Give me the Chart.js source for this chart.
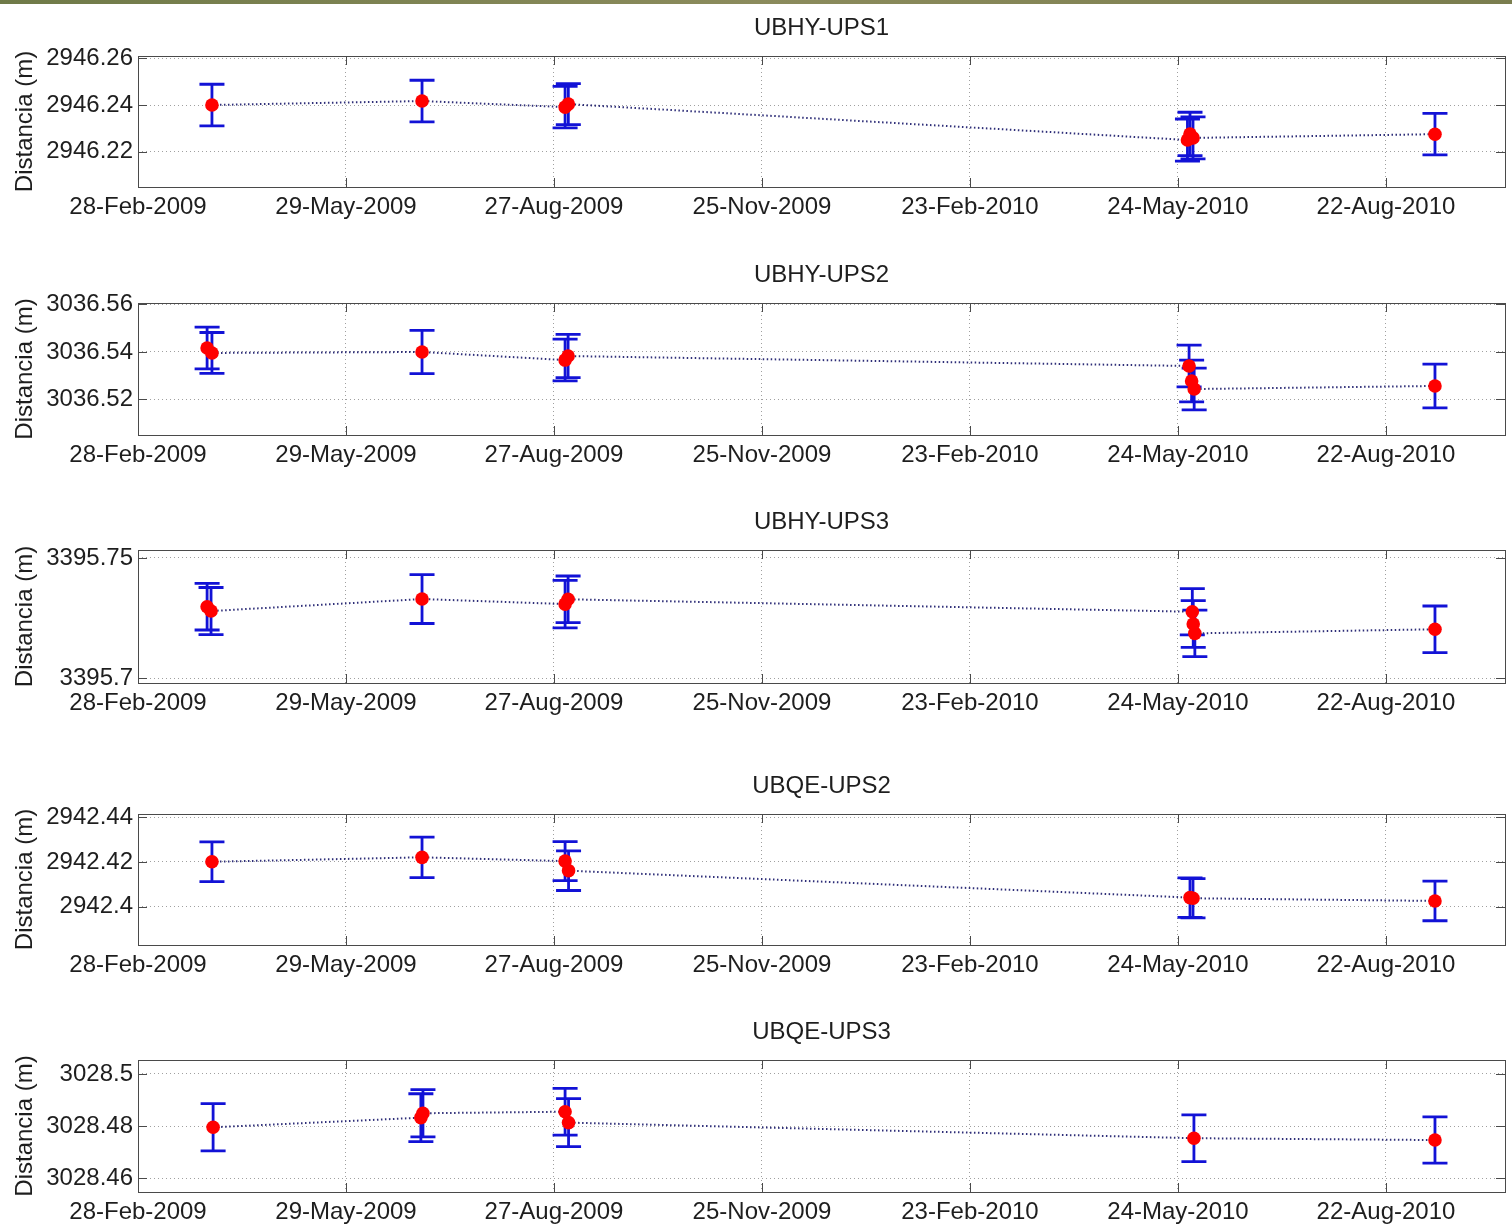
<!DOCTYPE html>
<html>
<head>
<meta charset="utf-8">
<script src="https://cdn.jsdelivr.net/npm/chart.js@4.4.1/dist/chart.umd.min.js"></script>
<style>
  body { margin: 0; background: #fff; width: 1512px; height: 1224px; position: relative; overflow: hidden; }
  #band { position: absolute; left: 0; top: 0; width: 1512px; height: 4px;
          background: linear-gradient(to right, #6f7a48, #8b8b5c 50%, #7a7d4e); }
  canvas { position: absolute; left: 0; }
</style>
</head>
<body>
<div id="band"></div>

<script>
// x axis: days counted from 28-Feb-2009
const dayTicks = [0, 90, 180, 270, 360, 450, 540];
const dateLabels = ['28-Feb-2009', '29-May-2009', '27-Aug-2009', '25-Nov-2009', '23-Feb-2010', '24-May-2010', '22-Aug-2010'];
const dayMax = 591.5;

const titles = ['UBHY-UPS1', 'UBHY-UPS2', 'UBHY-UPS3', 'UBQE-UPS2', 'UBQE-UPS3'];

// UBHY-UPS1
const days1 = [32.0, 122.9, 184.8, 186.2, 454.1, 455.2, 456.5, 561.2];
const dist1 = [2946.2400, 2946.2417, 2946.2391, 2946.2404, 2946.2250, 2946.2276, 2946.2259, 2946.2275];
const err1  = [0.0089, 0.0089, 0.0089, 0.0088, 0.0090, 0.0093, 0.0090, 0.0089];
const yTicks1 = [2946.22, 2946.24, 2946.26];

// UBHY-UPS2
const days2 = [29.9, 32.0, 122.9, 184.8, 186.1, 454.8, 455.9, 457.0, 561.2];
const dist2 = [3036.5417, 3036.5396, 3036.5400, 3036.5366, 3036.5383, 3036.5341, 3036.5278, 3036.5244, 3036.5257];
const err2  = [0.0088, 0.0086, 0.0091, 0.0088, 0.0091, 0.0088, 0.0088, 0.0088, 0.0092];
const yTicks2 = [3036.52, 3036.54, 3036.56];

// UBHY-UPS3
const days3 = [29.9, 31.6, 122.9, 184.8, 186.1, 456.2, 456.6, 457.3, 561.2];
const dist3 = [3395.7297, 3395.7279, 3395.7329, 3395.7308, 3395.7328, 3395.7276, 3395.7225, 3395.7186, 3395.7203];
const err3  = [0.0097, 0.0098, 0.0102, 0.0099, 0.0097, 0.0096, 0.0097, 0.0097, 0.0097];
const yTicks3 = [3395.70, 3395.75];

// UBQE-UPS2
const days4 = [32.0, 122.9, 184.8, 186.3, 455.2, 456.5, 561.2];
const dist4 = [2942.4201, 2942.4221, 2942.4204, 2942.4161, 2942.4040, 2942.4037, 2942.4025];
const err4  = [0.0089, 0.0091, 0.0088, 0.0089, 0.0089, 0.0088, 0.0089];
const yTicks4 = [2942.40, 2942.42, 2942.44];

// UBQE-UPS3
const days5 = [32.5, 122.4, 123.3, 184.8, 186.3, 456.9, 561.2];
const dist5 = [3028.4795, 3028.4832, 3028.4849, 3028.4855, 3028.4813, 3028.4753, 3028.4746];
const err5  = [0.0091, 0.0092, 0.0091, 0.0090, 0.0092, 0.0090, 0.0089];
const yTicks5 = [3028.46, 3028.48, 3028.50];

const yRanges = [
    [2946.20488, 2946.26099],
    [3036.50505, 3036.56063],
    [3395.69792, 3395.75333],
    [2942.38270, 2942.44157],
    [3028.45462, 3028.50538]
];

// layout of each panel (plot box top / height in page pixels)
const plotTops = [56, 303, 550, 814, 1060];
const plotHeights = [131, 132, 133, 131, 132];
const TITLE_H = 40;
const XAXIS_H = 41;

const FONT = "'Liberation Sans', Arial, Helvetica, sans-serif";
const TEXT = '#1e1e1e';

const errorBars = {
    id: 'errorBars',
    beforeDatasetsDraw(chart) {
        const { ctx, scales: { x, y } } = chart;
        const ds = chart.data.datasets[0];
        ctx.save();
        ctx.strokeStyle = '#1212d6';
        ctx.lineWidth = 2.8;
        ds.data.forEach((p, i) => {
            const px = x.getPixelForValue(p.x);
            const top = y.getPixelForValue(p.y + ds.errors[i]);
            const bot = y.getPixelForValue(p.y - ds.errors[i]);
            ctx.beginPath();
            ctx.moveTo(px, top); ctx.lineTo(px, bot);
            ctx.moveTo(px - 12.5, top); ctx.lineTo(px + 12.5, top);
            ctx.moveTo(px - 12.5, bot); ctx.lineTo(px + 12.5, bot);
            ctx.stroke();
        });
        ctx.restore();
    }
};

// matlab style box with inward tick marks
const frame = {
    id: 'frame',
    afterDraw(chart) {
        const { ctx, chartArea: a, scales: { x, y } } = chart;
        ctx.save();
        ctx.strokeStyle = '#4a4a4a';
        ctx.lineWidth = 1;
        ctx.strokeRect(Math.round(a.left) + 0.5, Math.round(a.top) + 0.5,
                       Math.round(a.right - a.left), Math.round(a.bottom - a.top));
        ctx.beginPath();
        x.ticks.forEach(t => {
            const px = Math.round(x.getPixelForValue(t.value)) + 0.5;
            ctx.moveTo(px, a.bottom); ctx.lineTo(px, a.bottom - 9);
            ctx.moveTo(px, a.top); ctx.lineTo(px, a.top + 9);
        });
        y.ticks.forEach(t => {
            const py = Math.round(y.getPixelForValue(t.value)) + 0.5;
            ctx.moveTo(a.left, py); ctx.lineTo(a.left + 9, py);
            ctx.moveTo(a.right, py); ctx.lineTo(a.right - 9, py);
        });
        ctx.stroke();
        ctx.restore();
    }
};

const panels = [
    [days1, dist1, err1, yTicks1],
    [days2, dist2, err2, yTicks2],
    [days3, dist3, err3, yTicks3],
    [days4, dist4, err4, yTicks4],
    [days5, dist5, err5, yTicks5]
];

panels.forEach(([days, dist, errs, yTicks], k) => {
    const canvas = document.createElement('canvas');
    canvas.width = 1512;
    canvas.height = TITLE_H + plotHeights[k] + XAXIS_H;
    canvas.style.top = (plotTops[k] - TITLE_H) + 'px';
    document.body.appendChild(canvas);

    new Chart(canvas, {
        type: 'scatter',
        data: {
            datasets: [{
                data: days.map((d, i) => ({ x: d, y: dist[i] })),
                errors: errs,
                showLine: true,
                borderColor: '#2e2e78',
                borderWidth: 2,
                borderDash: [1.5, 2.5],
                tension: 0,
                pointRadius: 6.8,
                pointHoverRadius: 6.8,
                pointBackgroundColor: '#ff0000',
                pointBorderColor: '#ff0000',
                pointBorderWidth: 0
            }]
        },
        options: {
            responsive: false,
            animation: false,
            layout: { padding: { left: 0, right: 7, top: 0, bottom: 0 } },
            plugins: {
                legend: { display: false },
                tooltip: { enabled: false },
                title: {
                    display: true,
                    text: titles[k],
                    fullSize: false,
                    color: TEXT,
                    font: { family: FONT, size: 24, weight: 'normal', lineHeight: 1 },
                    padding: { top: 0, bottom: 16 }
                }
            },
            scales: {
                x: {
                    type: 'linear',
                    min: 0,
                    max: dayMax,
                    afterBuildTicks: s => { s.ticks = dayTicks.map(v => ({ value: v })); },
                    afterFit: s => { s.height = XAXIS_H; },
                    grid: { color: '#a0a0a0', lineWidth: 1, drawTicks: false },
                    border: { display: false, dash: [1, 3] },
                    ticks: {
                        callback: (v, i) => dateLabels[i],
                        color: TEXT,
                        font: { family: FONT, size: 24 },
                        padding: 6,
                        maxRotation: 0,
                        autoSkip: false
                    }
                },
                y: {
                    type: 'linear',
                    min: yRanges[k][0],
                    max: yRanges[k][1],
                    afterBuildTicks: s => { s.ticks = yTicks.map(v => ({ value: v })); },
                    afterFit: s => { s.width = 138; },
                    grid: { color: '#a0a0a0', lineWidth: 1, drawTicks: false },
                    border: { display: false, dash: [1, 3] },
                    title: {
                        display: true,
                        text: 'Distancia (m)',
                        color: TEXT,
                        font: { family: FONT, size: 24 },
                        padding: { top: 11, bottom: 0 }
                    },
                    ticks: {
                        callback: v => String(+v.toFixed(2)),
                        color: TEXT,
                        font: { family: FONT, size: 24 },
                        padding: 5
                    }
                }
            }
        },
        plugins: [errorBars, frame]
    });
});
</script>
</body>
</html>
